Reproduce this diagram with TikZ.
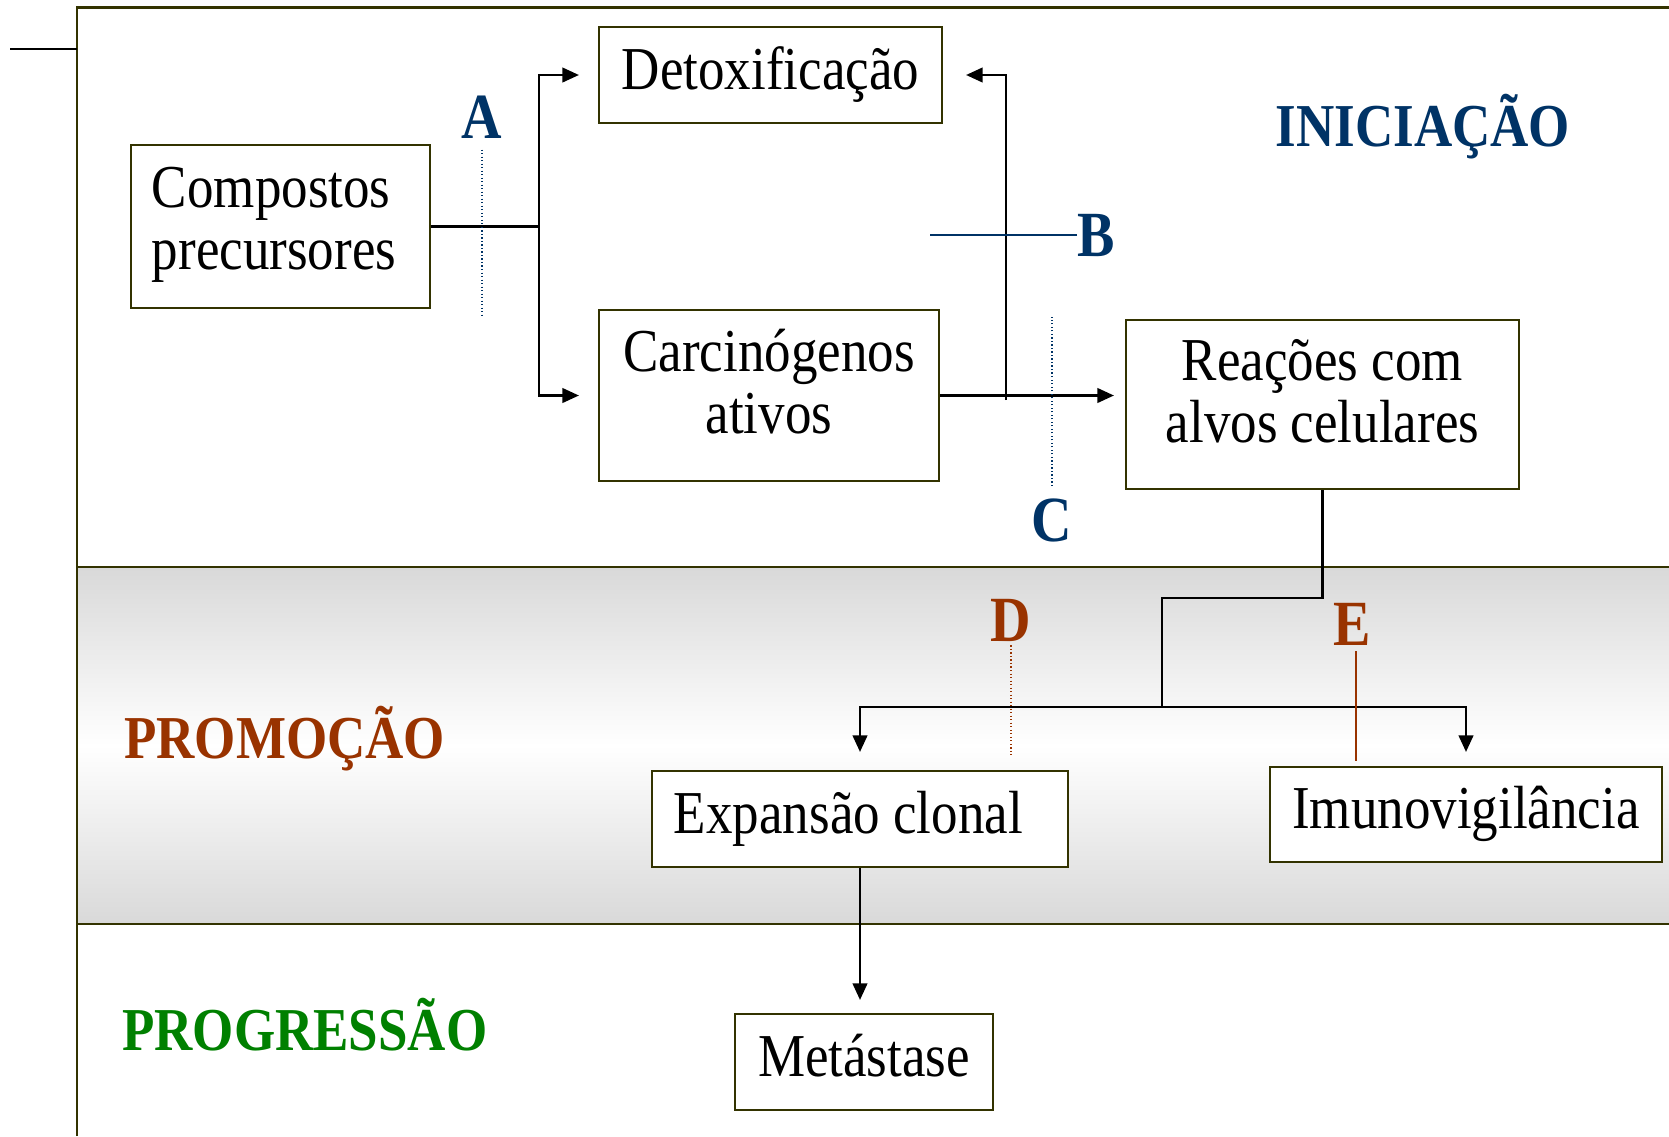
\documentclass[tikz,border=0pt]{standalone}
\usepackage{fontspec}
\setmainfont{Liberation Serif}[FakeStretch=0.87]
\usetikzlibrary{arrows.meta,positioning}
\definecolor{navy}{RGB}{0,51,102}
\definecolor{rust}{RGB}{153,51,0}
\definecolor{leaf}{RGB}{0,128,0}
\definecolor{rim}{RGB}{51,51,0}
\tikzset{
  box/.style={draw=rim, line width=1.8pt, fill=white, inner sep=0pt,
    font=\fontsize{52}{53}\selectfont, align=flush center,
    text height=1.25cm, text depth=0.4cm},
  tag/.style={inner sep=0pt, font=\fontsize{55}{60}\selectfont\bfseries},
  stage/.style={inner sep=0pt, anchor=base, font=\fontsize{52}{60}\selectfont\bfseries},
  frame/.style={draw=rim, line width=2pt},
  link/.style={draw=black, line width=2pt},
  flow/.style={link, -{Triangle[length=0.5cm,width=0.44cm]}, shorten >=#1},
  flow/.default=0.57cm,
  dotline/.style={dotted, line width=1pt}
}
\begin{document}
\begin{tikzpicture}[x=0.03cm, y=-0.03cm]
  \useasboundingbox (0,0) rectangle (1669,1136);
  \shade[top color=gray!30, bottom color=gray!30, middle color=white] (77,567) rectangle (1669,924);
  \draw[frame] (77,1136) |- (1669,7.5);
  \draw[frame] (77,567) -- (1669,567);
  \draw[frame] (77,924) -- (1669,924);
  \draw[line width=1.8pt] (10,49) -- (77,49);

  \begin{scope}[every node/.style={box}]
    \node (comp) [align=flush left, text width=7.71cm, inner xsep=0.63cm, minimum height=4.89cm, text depth=2.4cm] at (280.5,226.5) {Compostos\\precursores};
    \node (detox) [minimum width=10.29cm, minimum height=2.88cm] at (770.5,75) {Detoxificação};
    \node (carc) [text width=10.2cm, minimum height=5.13cm, text depth=2.7cm] at (769,395.5) {Carcinógenos\\ativos};
    \node (reac) [text width=11.79cm, minimum height=5.07cm, text depth=2.7cm] at (1322.5,404.5) {Reações com\\alvos celulares};
    \node (expa) [align=flush left, text width=11.16cm, inner xsep=0.66cm, minimum height=2.88cm] at (860,819) {Expansão clonal};
    \node (imun) [minimum width=11.76cm, minimum height=2.85cm] at (1466,814.5) {Imunovigilância};
    \node (meta) [minimum width=7.74cm, minimum height=2.88cm] at (864,1062) {Metástase};
  \end{scope}

  \begin{scope}[every node/.style={stage}]
    \node (init) [text=navy] at (1423,146) {INICIAÇÃO};
    \node (prom) [text=rust, anchor=base west] at (124,758) {PROMOÇÃO};
    \node (prog) [text=leaf, anchor=base west] at (122,1050) {PROGRESSÃO};
  \end{scope}

  \begin{scope}[every node/.style={tag}]
    \node (tagA) [text=navy] at (482,117) {A};
    \node (tagB) [text=navy] at (1096,235) {B};
    \node (tagC) [text=navy] at (1052,520) {C};
    \node (tagD) [text=rust] at (1011,620) {D};
    \node (tagE) [text=rust] at (1352,624) {E};
  \end{scope}

  \coordinate (split) at (539,226.5);
  \coordinate (back) at (1006,400);
  \coordinate (elbow) at (1162,598);
  \coordinate (hub) at (1162,707);

  \draw[link] (comp.east) -- (split);
  \draw[flow] (split) |- (detox.west);
  \draw[flow] (split) |- (carc.west);
  \draw[flow=0.33cm] (carc.east) -- (carc.east -| reac.west);
  \draw[flow=0.69cm] (back) |- (detox.east);
  \draw[link] (reac.south) |- (elbow) -- (hub);
  \draw[flow=0.54cm] (hub) -| (expa.north);
  \draw[flow=0.42cm] (hub) -| (imun.north);
  \draw[flow=0.39cm] (expa.south) -- (expa.south |- meta.north);

  \draw[dotline, navy] ([yshift=-0.33cm]tagA.south) -- ++(0,167);
  \draw[navy, line width=1.2pt] (tagB.west) -- ++(-147,0);
  \draw[dotline, navy] ([yshift=0.36cm]tagC.north) -- ++(0,-169);
  \draw[dotline, rust] ([yshift=-0.12cm]tagD.south) -- ++(0,110);
  \draw[rust, line width=1pt] ([xshift=0.12cm,yshift=-0.18cm]tagE.south) -- ++(0,110);
\end{tikzpicture}
\end{document}
